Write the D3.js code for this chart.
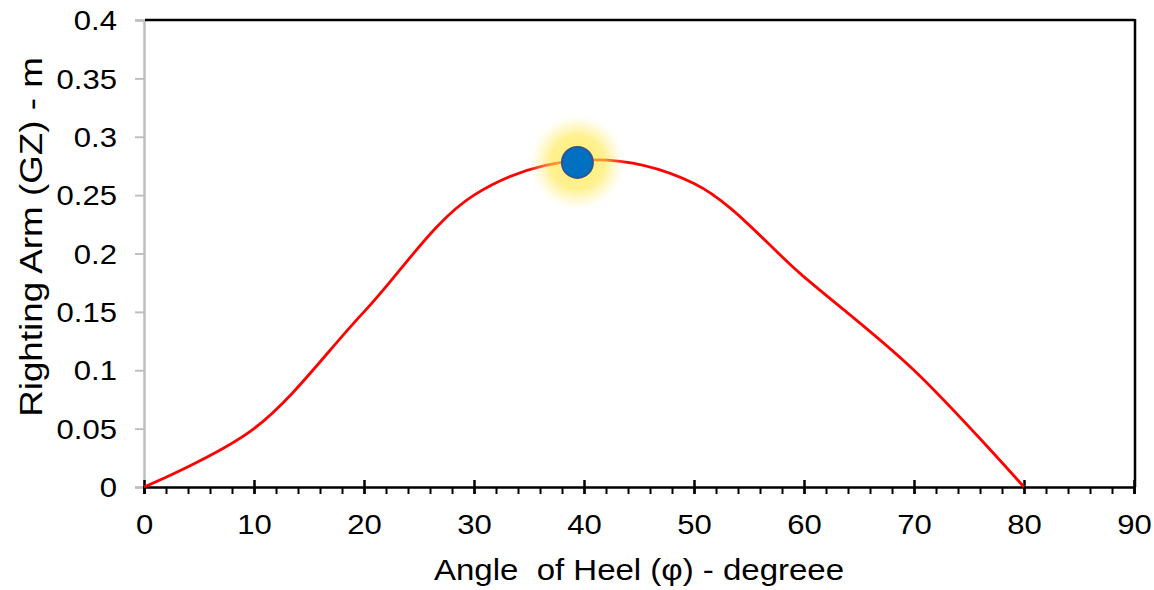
<!DOCTYPE html>
<html>
<head>
<meta charset="utf-8">
<script src="https://cdn.jsdelivr.net/npm/d3@7"></script>
<style>
  html, body { margin: 0; padding: 0; background: #fff; }
  svg { display: block; }
  text { font-family: "Liberation Sans", Arial, sans-serif; fill: #000; }
</style>
</head>
<body>
<svg id="chart" width="1154" height="590"></svg>
<script>
// ---- data ----
const angles = [0, 10, 20, 30, 40, 50, 60, 70, 80];
const gzValues = [0, 0.05, 0.15, 0.25, 0.28, 0.26, 0.18, 0.10, 0];
const peakAngle = [39.4];
const peakGZ = [0.278];
const xTicks = [0, 10, 20, 30, 40, 50, 60, 70, 80, 90];
const xMinorTicks = d3.range(0, 91, 2);
const yTicks = [0, 0.05, 0.1, 0.15, 0.2, 0.25, 0.3, 0.35, 0.4];
const yTickLabels = ["0", "0.05", "0.1", "0.15", "0.2", "0.25", "0.3", "0.35", "0.4"];
const xTitle = "Angle\u00a0 of Heel (\u03c6) - degreee";
const yTitle = "Righting Arm (GZ) - m";

// ---- layout ----
const svg = d3.select("#chart");
const L = 144, R = 1134, T = 20, B = 487;
const SX = 1.15; // horizontal stretch of the text
const x = d3.scaleLinear().domain([0, 90]).range([L, R]);
const y = d3.scaleLinear().domain([0, 0.4]).range([B, T]);

// glow gradient
const defs = svg.append("defs");
const grad = defs.append("radialGradient").attr("id", "glow");
grad.append("stop").attr("offset", "0%").attr("stop-color", "#ffe63a").attr("stop-opacity", 0.75);
grad.append("stop").attr("offset", "55%").attr("stop-color", "#ffe84a").attr("stop-opacity", 0.6);
grad.append("stop").attr("offset", "80%").attr("stop-color", "#ffee80").attr("stop-opacity", 0.25);
grad.append("stop").attr("offset", "100%").attr("stop-color", "#ffffff").attr("stop-opacity", 0);

// y axis (gray)
const yAxis = d3.axisLeft(y).tickValues(yTicks)
  .tickFormat((d, i) => yTickLabels[i]).tickSize(9);
const gy = svg.append("g").attr("transform", `translate(${L},0)`).call(yAxis);
gy.select(".domain").attr("stroke", "#bfbfbf").attr("stroke-width", 2.5);
gy.selectAll(".tick line").attr("stroke", "#bfbfbf").attr("stroke-width", 2);
gy.selectAll(".tick text").style("font-size", "27px").attr("dy", "0.36em")
  .attr("x", -27 / SX).attr("transform", `scale(${SX},1)`);

// top and right borders
svg.append("line").attr("x1", L + 1).attr("x2", R + 1).attr("y1", T).attr("y2", T)
  .attr("stroke", "#000").attr("stroke-width", 2.5);
svg.append("line").attr("x1", R + 1).attr("x2", R + 1).attr("y1", T - 1).attr("y2", B)
  .attr("stroke", "#000").attr("stroke-width", 2.5);

// x axis minor ticks
const xMinor = d3.axisBottom(x).tickValues(xMinorTicks).tickSize(7).tickFormat("");
const gxm = svg.append("g").attr("transform", `translate(0,${B})`).call(xMinor);
gxm.select(".domain").remove();
gxm.selectAll(".tick line").attr("stroke", "#000").attr("stroke-width", 2);

// x axis major
const xAxis = d3.axisBottom(x).tickValues(xTicks).tickSize(7).tickPadding(21);
const gx = svg.append("g").attr("transform", `translate(0,${B})`).call(xAxis);
gx.select(".domain").attr("stroke", "#000").attr("stroke-width", 2.5);
gx.selectAll(".tick line").attr("stroke", "#000").attr("stroke-width", 2.5).attr("y1", -7);
gx.selectAll(".tick text").style("font-size", "27px").attr("transform", `scale(${SX},1)`);

// curve
const line = d3.line()
  .x((d, i) => x(angles[i]))
  .y(d => y(d))
  .curve(d3.curveCatmullRom.alpha(0.5));
svg.append("path").datum(gzValues).attr("d", line)
  .attr("fill", "none").attr("stroke", "#ff0000").attr("stroke-width", 2.8);

// peak marker with glow
const peaks = peakAngle.map((a, i) => ({a, g: peakGZ[i]}));
svg.selectAll("circle.glow").data(peaks).enter().append("circle").attr("class", "glow")
  .attr("cx", d => x(d.a)).attr("cy", d => y(d.g)).attr("r", 50)
  .attr("fill", "url(#glow)");
svg.selectAll("circle.pt").data(peaks).enter().append("circle").attr("class", "pt")
  .attr("cx", d => x(d.a)).attr("cy", d => y(d.g)).attr("r", 15.5)
  .attr("fill", "#0070c0").attr("stroke", "#2f5597").attr("stroke-width", 2);

// titles
svg.append("text").attr("transform", `translate(${(L + R) / 2},580) scale(1.1,1)`)
  .attr("text-anchor", "middle").style("font-size", "30px").text(xTitle);
svg.append("text").attr("transform", `translate(42,237) rotate(-90) scale(1.15,1)`)
  .attr("text-anchor", "middle").style("font-size", "32px").text(yTitle);
</script>
</body>
</html>
